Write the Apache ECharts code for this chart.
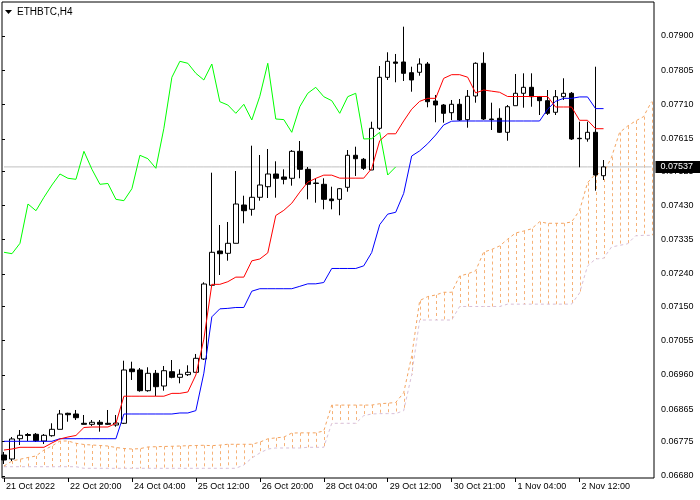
<!DOCTYPE html>
<html>
<head>
<meta charset="utf-8">
<script src="https://cdn.jsdelivr.net/npm/echarts@6/dist/echarts.min.js"></script>
<style>html,body{margin:0;padding:0;background:#fff}#c{width:700px;height:500px}</style>
</head>
<body>
<div id="c"></div>
<script>
const symbolTitle = 'ETHBTC,H4';
const tickLabels = ['21 Oct 2022','22 Oct 20:00','24 Oct 04:00','25 Oct 12:00','26 Oct 20:00','28 Oct 04:00','29 Oct 12:00','30 Oct 21:00','1 Nov 04:00','2 Nov 12:00'];
const priceTicks = [0.07900,0.07805,0.07710,0.07615,0.07525,0.07430,0.07335,0.07240,0.07150,0.07055,0.06960,0.06865,0.06775,0.06680];

const open = [0.067381,0.067270,0.067833,0.067949,0.067955,0.067769,0.067916,0.068093,0.068537,0.068518,
0.068260,0.068232,0.068288,0.068260,0.068213,0.068260,0.069766,0.069738,0.069164,0.069646,
0.069294,0.069691,0.069535,0.069608,0.069674,0.070043,0.072087,0.073038,0.072974,0.073251,
0.074313,0.074194,0.074527,0.074821,0.075173,0.075090,0.075054,0.075802,0.075303,0.074923,
0.074887,0.074480,0.074471,0.074804,0.075692,0.075581,0.075284,0.076440,0.077854,0.078279,
0.078279,0.077982,0.077993,0.078223,0.077197,0.077086,0.076873,0.077106,0.076679,0.077336,
0.078243,0.076698,0.076718,0.076329,0.077067,0.077411,0.077577,0.077317,0.077206,0.076884,
0.077317,0.077411,0.076163,0.076144,0.076329,0.075126];
const high = [0.067464,0.067880,0.068074,0.067991,0.067991,0.067963,0.068260,0.068629,0.068554,0.068629,
0.068490,0.068351,0.068351,0.068629,0.068490,0.069996,0.069968,0.069793,0.069813,0.069738,
0.069849,0.070015,0.069757,0.069868,0.070182,0.072170,0.075209,0.073759,0.073842,0.075256,
0.074571,0.075958,0.075700,0.075866,0.075525,0.075303,0.075838,0.076088,0.075367,0.075054,
0.075054,0.074821,0.074785,0.075838,0.075930,0.075617,0.076623,0.078168,0.078548,0.078501,
0.079258,0.078148,0.078381,0.078279,0.077364,0.077114,0.077225,0.077253,0.077502,0.078270,
0.078548,0.077150,0.076995,0.077086,0.077946,0.077965,0.077965,0.077336,0.077502,0.077502,
0.077827,0.077447,0.076623,0.076623,0.078148,0.075561];
const low = [0.067131,0.067214,0.067658,0.067769,0.067741,0.067686,0.067888,0.068093,0.068304,0.068351,
0.068227,0.068185,0.068027,0.068213,0.068166,0.068240,0.069461,0.069136,0.069136,0.069017,
0.069164,0.069508,0.069369,0.069572,0.069674,0.070015,0.072087,0.072372,0.072769,0.073251,
0.073806,0.074017,0.074433,0.074507,0.074516,0.074887,0.074849,0.075054,0.074471,0.074377,
0.074194,0.074194,0.074028,0.074682,0.075118,0.075284,0.075284,0.076393,0.077780,0.077716,
0.077752,0.077455,0.077899,0.077023,0.076607,0.076596,0.076670,0.076643,0.076457,0.077150,
0.076670,0.076393,0.076310,0.076096,0.077067,0.077011,0.077039,0.076809,0.076809,0.076809,
0.077225,0.076116,0.075359,0.076069,0.074710,0.075007];
const close = [0.067242,0.067825,0.067927,0.067922,0.067777,0.067927,0.068093,0.068518,0.068498,0.068415,
0.068232,0.068288,0.068232,0.068232,0.068268,0.069738,0.069691,0.069164,0.069646,0.069275,
0.069718,0.069535,0.069619,0.069674,0.070062,0.072123,0.073002,0.072963,0.073251,0.074341,
0.074155,0.074527,0.074868,0.075173,0.075054,0.075026,0.075802,0.075303,0.074887,0.074910,
0.074471,0.074433,0.074765,0.075692,0.075597,0.075331,0.076440,0.077854,0.078298,0.078243,
0.077965,0.077780,0.078223,0.077178,0.077086,0.076856,0.077106,0.076670,0.077328,0.078243,
0.076698,0.076682,0.076329,0.077039,0.077411,0.077577,0.077317,0.077206,0.076856,0.077317,
0.077411,0.076144,0.076152,0.076329,0.075145,0.07537];

const tenkan = [0.067519,0.067547,0.067594,0.067594,0.067594,0.067594,0.067714,0.067825,0.067880,0.067922,
0.068143,0.068157,0.068157,0.068157,0.068258,0.069011,0.069011,0.069011,0.069011,0.069011,
0.069011,0.069090,0.069090,0.069128,0.069599,0.070593,0.072113,0.072113,0.072186,0.072313,
0.072313,0.072765,0.072816,0.072986,0.074022,0.074165,0.074363,0.074670,0.074947,0.075052,
0.075141,0.075141,0.075058,0.075058,0.075058,0.075058,0.075326,0.076098,0.076288,0.076288,
0.076643,0.076970,0.077188,0.077271,0.077271,0.077825,0.077927,0.077927,0.077857,0.077419,
0.077502,0.077470,0.077439,0.077322,0.077322,0.077322,0.077322,0.077322,0.077322,0.077031,
0.077031,0.077031,0.076662,0.076662,0.076429,0.076429];
const kijun = [0.067761,0.067761,0.067761,0.067761,0.067761,0.067761,0.067761,0.067833,0.067833,0.067833,
0.067833,0.067833,0.067833,0.067833,0.067833,0.068518,0.068518,0.068518,0.068518,0.068518,
0.068518,0.068518,0.068546,0.068546,0.068611,0.069650,0.071212,0.071434,0.071447,0.071471,
0.071471,0.071923,0.071992,0.071992,0.071992,0.071992,0.071992,0.072058,0.072127,0.072127,
0.072164,0.072553,0.072553,0.072553,0.072553,0.072626,0.072996,0.073768,0.074060,0.074111,
0.074636,0.075672,0.075815,0.076013,0.076254,0.076532,0.076637,0.076643,0.076643,0.076643,
0.076643,0.076643,0.076643,0.076643,0.076643,0.076643,0.076643,0.076643,0.076970,0.077188,
0.077271,0.077271,0.077310,0.077310,0.076986,0.076986];
const spanA = [0.067076,0.067214,0.067262,0.067311,0.067353,0.067519,0.067630,0.067769,0.067769,0.067705,
0.067672,0.067658,0.067644,0.067630,0.067589,0.067561,0.067547,0.067556,0.067603,0.067611,
0.067617,0.067622,0.067630,0.067639,0.067644,0.067650,0.067640,0.067654,0.067678,0.067678,
0.067678,0.067678,0.067737,0.067829,0.067856,0.067877,0.067988,0.067995,0.067995,0.067995,
0.068046,0.068765,0.068765,0.068765,0.068765,0.068765,0.068765,0.068803,0.068817,0.068837,
0.069106,0.070122,0.071662,0.071773,0.071818,0.071893,0.071893,0.072345,0.072404,0.072489,
0.073007,0.073079,0.073178,0.073364,0.073537,0.073590,0.073653,0.073848,0.073806,0.073806,
0.073806,0.073842,0.074161,0.074933,0.075174,0.075199,0.075639,0.076321,0.076501,0.076643,
0.076762,0.077178];
const spanB = [0.067056,0.067056,0.067056,0.067056,0.067056,0.067056,0.067056,0.067056,0.067056,0.067056,
0.067012,0.067012,0.067012,0.067012,0.067012,0.067012,0.067012,0.067012,0.067012,0.067012,
0.067012,0.067012,0.067012,0.067012,0.067012,0.067012,0.067012,0.067012,0.067012,0.067012,
0.067104,0.067298,0.067436,0.067547,0.067575,0.067575,0.067575,0.067575,0.067594,0.067594,
0.067594,0.068260,0.068260,0.068260,0.068260,0.068471,0.068518,0.068528,0.068528,0.068528,
0.068611,0.069605,0.071124,0.071124,0.071124,0.071124,0.071124,0.071499,0.071499,0.071499,
0.071499,0.071499,0.071499,0.071564,0.071564,0.071564,0.071564,0.071564,0.071564,0.071564,
0.071564,0.071564,0.071873,0.072622,0.072816,0.072835,0.073149,0.073194,0.073236,0.073458,
0.073472,0.073472];

// Chikou span = closes displayed 26 bars back
const chikou = close.slice(26);
const lastPrice = close[close.length - 1];

const N = spanA.length;
const categories = [];
for (let i = 0; i < N; i++) categories.push(i % 8 === 0 && tickLabels[i / 8] ? tickLabels[i / 8] : '');
const candles = open.map((o, i) => [o, close[i], low[i], high[i]]);
const cloud = spanA.map((a, i) => [i, a, spanB[i]]);
const bidLine = categories.map(() => lastPrice);

const FONT = 'Liberation Sans, Arial, sans-serif';
const YMIN = 0.066743, YMAX = 0.0799425;
const showIdx = (idx) => categories[idx] !== '';

const chart = echarts.init(document.getElementById('c'), null, {renderer: 'canvas'});
chart.setOption({
  animation: false,
  backgroundColor: '#fff',
  textStyle: {fontFamily: FONT},
  grid: [
    {left: -0.5, right: 44.5, top: 2, bottom: 22, show: false},
    {left: 2, right: 46, top: 2, bottom: 22, show: true, borderColor: '#000', borderWidth: 1, backgroundColor: 'transparent', z: 0}
  ],
  xAxis: [
    {type: 'category', gridIndex: 0, data: categories, boundaryGap: true,
     axisLine: {show: false},
     axisTick: {show: true, interval: showIdx, alignWithLabel: true, length: 4, lineStyle: {color: '#000'}},
     axisLabel: {show: true, interval: showIdx, align: 'left', margin: 3, padding: [0, 0, 0, 2], color: '#000', fontSize: 9, fontFamily: FONT, lineHeight: 11},
     splitLine: {show: false}},
    {type: 'value', gridIndex: 1, min: 0, max: 1, show: false}
  ],
  yAxis: [
    {type: 'value', gridIndex: 0, min: YMIN, max: YMAX, show: false, splitLine: {show: false}},
    {type: 'value', gridIndex: 1, position: 'right', min: YMIN, max: YMAX,
     axisLine: {show: false},
     splitLine: {show: false},
     axisTick: {show: true, inside: false, length: 3, lineStyle: {color: '#000'}, customValues: priceTicks},
     axisLabel: {show: true, margin: 7, color: '#000', fontSize: 9, fontFamily: FONT, customValues: priceTicks, formatter: v => v.toFixed(5)}}
  ],
  graphic: [
    {type: 'polygon', shape: {points: [[5, 10], [12, 10], [8.5, 14]]}, style: {fill: '#000'}},
    {type: 'text', left: 17, top: 7, style: {text: symbolTitle, font: '10px ' + FONT, fill: '#000'}}
  ],
  series: [
    {type: 'line', name: 'Bid', data: bidLine, symbol: 'none', z: 1, silent: true,
     lineStyle: {color: '#C0C0C0', width: 1},
     endLabel: {show: true, distance: 4, formatter: lastPrice.toFixed(5), color: '#fff', backgroundColor: '#000',
                padding: [2, 7, 1, 5], fontSize: 9, fontFamily: FONT}},
    {type: 'custom', name: 'cloud', xAxisIndex: 0, yAxisIndex: 0, data: cloud, z: 1, silent: true,
     encode: {x: 0, y: [1, 2]},
     renderItem: function (params, api) {
       const p1 = api.coord([api.value(0), api.value(1)]);
       const p2 = api.coord([api.value(0), api.value(2)]);
       const x = Math.round(p1[0]) + 0.5;
       return {type: 'line', shape: {x1: x, y1: p1[1], x2: x, y2: p2[1]},
               style: {stroke: '#F4A460', lineWidth: 1, lineDash: [3, 3], opacity: 0.85}};
     }},
    {type: 'line', name: 'Senkou B', data: spanB, symbol: 'none', z: 2, silent: true,
     lineStyle: {color: '#D8BFD8', width: 1, type: [3, 3]}},
    {type: 'line', name: 'Senkou A', data: spanA, symbol: 'none', z: 2, silent: true,
     lineStyle: {color: '#F4A460', width: 1, type: [3, 3]}},
    {type: 'candlestick', name: 'ETHBTC', data: candles, barWidth: 5, z: 3,
     itemStyle: {color: '#ffffff', color0: '#000000', borderColor: '#000000', borderColor0: '#000000', borderWidth: 1}},
    {type: 'line', name: 'Chikou', data: chikou, symbol: 'none', z: 4, silent: true,
     lineStyle: {color: '#00FF00', width: 1}},
    {type: 'line', name: 'Kijun', data: kijun, symbol: 'none', z: 4, silent: true,
     lineStyle: {color: '#0000FF', width: 1}},
    {type: 'line', name: 'Tenkan', data: tenkan, symbol: 'none', z: 4, silent: true,
     lineStyle: {color: '#FF0000', width: 1}}
  ]
});
</script>
</body>
</html>
